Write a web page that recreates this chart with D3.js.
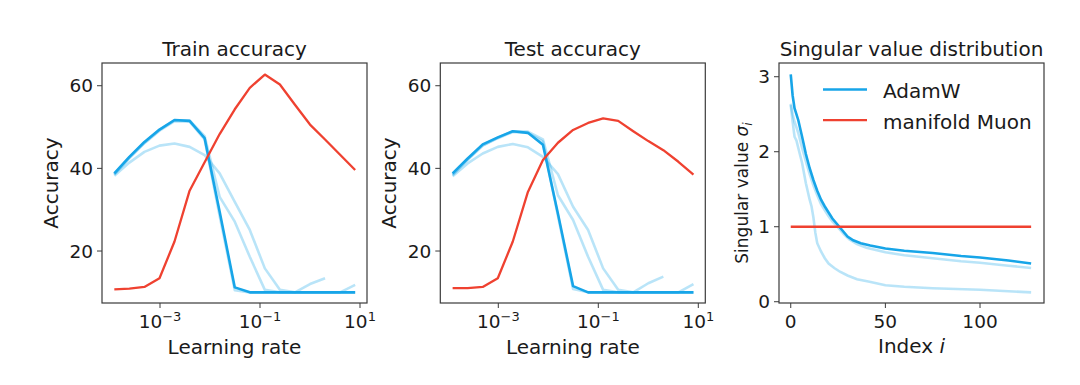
<!DOCTYPE html>
<html lang="en">
<head>
<meta charset="UTF-8">
<title>AdamW vs manifold Muon</title>
<script src="https://d3js.org/d3.v7.min.js"></script>
<style>
  body { margin: 0; background: #fff; }
  svg { display: block; font-family: "DejaVu Sans", sans-serif; }
</style>
</head>
<body>
<svg id="chart" width="1080" height="385"></svg>
<script>
// learning rates of the sweep (2^-13 ... 2^3)
const learningRates = [1.22e-4, 2.44e-4, 4.88e-4, 9.77e-4, 1.95e-3, 3.91e-3, 7.81e-3, 1.56e-2,
  3.13e-2, 6.25e-2, 0.125, 0.25, 0.5, 1, 2, 4, 8];

// train accuracy (%), AdamW: main run + three faded runs, manifold Muon
const trainAdamW  = [38.8, 42.8, 46.4, 49.4, 51.7, 51.5, 47.3, 29.5, 11.2, 10, 10, 10, 10, 10, 10, 10, 10];
const trainFadedA = [38.5, 42.5, 46.1, 49.1, 51.4, 51.3, 47.0, 28.5, 10.5, 10, 10, 10, 10, 10, 10, 10, 10];
const trainFadedB = [38.2, 41.4, 44.0, 45.5, 46.0, 45.2, 43.2, 38.8, 31.9, 25.1, 15.8, 10.6, 10, 12.0, 13.4, null, null];
const trainFadedC = [38.6, 42.6, 46.2, 49.3, 51.6, 51.6, 47.8, 33.1, 27.1, 18.6, 10.6, 10, 10, 10, 10, 10, 11.8];
const trainMuon   = [10.7, 10.9, 11.3, 13.4, 22.3, 34.6, 41.5, 48.3, 54.3, 59.5, 62.7, 60.3, 55.4, 50.6, 47.0, 43.3, 39.6];

// test accuracy (%)
const testAdamW  = [38.8, 42.4, 45.8, 47.5, 49.0, 48.6, 45.7, 29.0, 11.5, 10, 10, 10, 10, 10, 10, 10, 10];
const testFadedA = [38.4, 42.1, 45.5, 47.3, 48.8, 48.6, 46.5, 28.5, 10.8, 10, 10, 10, 10, 10, 10, 10, 10];
const testFadedB = [38.1, 41.2, 43.6, 45.2, 45.9, 45.1, 42.8, 38.6, 30.7, 25.1, 15.8, 10.6, 10, 12.2, 13.8, null, null];
const testFadedC = [38.5, 42.2, 45.6, 47.4, 49.0, 48.9, 47.0, 33.5, 27.5, 18.6, 10.6, 10, 10, 10, 10, 10, 12.0];
const testMuon   = [11.0, 11.0, 11.3, 13.4, 22.3, 34.3, 42.0, 46.2, 49.3, 51.0, 52.1, 51.5, 49.0, 46.6, 44.4, 41.6, 38.5];

// singular values [index, sigma]
const svAdamW = [[0, 3.03], [1, 2.75], [2, 2.58], [4, 2.42], [6, 2.2], [8, 1.97], [10, 1.78], [12, 1.62],
  [14, 1.48], [16, 1.36], [18, 1.27], [20, 1.19], [22, 1.11], [24, 1.05], [27, 0.96], [30, 0.87],
  [33, 0.82], [37, 0.78], [42, 0.75], [50, 0.71], [60, 0.68], [75, 0.65], [90, 0.61], [100, 0.59],
  [115, 0.55], [127, 0.51]];
const svFadedA = [[0, 2.64], [1, 2.5], [2, 2.4], [4, 2.25], [6, 2.05], [8, 1.87], [10, 1.7], [12, 1.55],
  [14, 1.42], [16, 1.3], [18, 1.22], [20, 1.14], [22, 1.07], [25, 0.99], [28, 0.9], [31, 0.83],
  [35, 0.77], [40, 0.72], [50, 0.66], [60, 0.62], [75, 0.58], [90, 0.54], [100, 0.52], [115, 0.48],
  [127, 0.45]];
const svFadedB = [[0, 2.62], [1, 2.4], [2, 2.2], [3, 2.15], [4, 2.05], [6, 1.85], [8, 1.58], [10, 1.36],
  [11, 1.27], [12, 1.12], [13, 0.92], [14, 0.78], [16, 0.67], [18, 0.58], [20, 0.51], [23, 0.45],
  [26, 0.4], [30, 0.35], [35, 0.3], [41, 0.27], [50, 0.22], [60, 0.2], [75, 0.18], [100, 0.16],
  [115, 0.14], [127, 0.125]];
const svMuon = [[0, 1], [127, 1]];

// ticks
const lrTickExps = [-3, -1, 1];
const accTicks = [20, 40, 60];
const indexTicks = [0, 50, 100];
const sigmaTicks = [0, 1, 2, 3];
const legendNames = ["AdamW", "manifold Muon"];

const blue = "#17a5e8", red = "#ef4130", ink = "#1a1a1a", spine = "#3a3a3a";

const svg = d3.select("#chart");
const plotTop = 63, plotH = 240, plotW = 265;
const tickSize = 18.5;

function yAxis(g, y, left, ticks) {
  ticks.forEach(t => {
    g.append("line").attr("x1", left - 5).attr("x2", left)
      .attr("y1", y(t)).attr("y2", y(t)).attr("stroke", spine).attr("stroke-width", 1);
    g.append("text").attr("x", left - 9).attr("y", y(t)).attr("dy", "0.36em")
      .attr("text-anchor", "end").attr("font-size", tickSize).attr("fill", ink).text(t);
  });
}

function box(g, left) {
  g.append("rect").attr("x", left).attr("y", plotTop).attr("width", plotW).attr("height", plotH)
    .attr("fill", "none").attr("stroke", spine).attr("stroke-width", 1.2);
}

function accuracyPanel(left, title, adam, fa, fb, fc, muon) {
  const g = svg.append("g");
  const x = d3.scaleLog().domain([Math.pow(10, -4.16), Math.pow(10, 1.14)]).range([left, left + plotW]);
  const y = d3.scaleLinear().domain([7.42, 65.5]).range([plotTop + plotH, plotTop]);
  g.append("text").attr("x", left + plotW / 2).attr("y", 56)
    .attr("text-anchor", "middle").attr("font-size", 20).attr("fill", ink).text(title);

  const line = d3.line()
    .defined(d => d[1] !== null)
    .x(d => x(d[0])).y(d => y(d[1]));
  const pts = arr => learningRates.map((lr, i) => [lr, arr[i]]);

  [fa, fb, fc].forEach(s => {
    g.append("path").attr("d", line(pts(s))).attr("fill", "none")
      .attr("stroke", blue).attr("stroke-opacity", 0.3).attr("stroke-width", 2.6)
      .attr("stroke-linejoin", "round");
  });
  g.append("path").attr("d", line(pts(adam))).attr("fill", "none")
    .attr("stroke", blue).attr("stroke-width", 2.6).attr("stroke-linejoin", "round");
  g.append("path").attr("d", line(pts(muon))).attr("fill", "none")
    .attr("stroke", red).attr("stroke-width", 2.3).attr("stroke-linejoin", "round");

  box(g, left);
  yAxis(g, y, left, accTicks);

  lrTickExps.forEach(e => {
    const px = x(Math.pow(10, e));
    g.append("line").attr("x1", px).attr("x2", px).attr("y1", plotTop + plotH).attr("y2", plotTop + plotH + 5)
      .attr("stroke", spine).attr("stroke-width", 1);
    const t = g.append("text").attr("x", px).attr("y", 328).attr("text-anchor", "middle")
      .attr("font-size", tickSize).attr("fill", ink);
    t.append("tspan").text("10");
    t.append("tspan").attr("dy", -7.5).attr("font-size", 13).text(e < 0 ? "\u2212" + (-e) : e);
  });

  g.append("text").attr("x", left + plotW / 2).attr("y", 354).attr("text-anchor", "middle")
    .attr("font-size", 20).attr("fill", ink).text("Learning rate");
  g.append("text").attr("transform", `translate(${left - 44},${plotTop + plotH / 2}) rotate(-90)`)
    .attr("text-anchor", "middle").attr("font-size", 20).attr("fill", ink).text("Accuracy");
}

accuracyPanel(102, "Train accuracy", trainAdamW, trainFadedA, trainFadedB, trainFadedC, trainMuon);
accuracyPanel(440.3, "Test accuracy", testAdamW, testFadedA, testFadedB, testFadedC, testMuon);

// singular value panel
(function () {
  const left = 779;
  const g = svg.append("g");
  const x = d3.scaleLinear().domain([-6.2, 133.8]).range([left, left + plotW]);
  const y = d3.scaleLinear().domain([-0.017, 3.183]).range([plotTop + plotH, plotTop]);
  g.append("text").attr("x", left + plotW / 2).attr("y", 56)
    .attr("text-anchor", "middle").attr("font-size", 20).attr("fill", ink).text("Singular value distribution");

  const line = d3.line().x(d => x(d[0])).y(d => y(d[1]));
  [svFadedA, svFadedB].forEach(s => {
    g.append("path").attr("d", line(s)).attr("fill", "none")
      .attr("stroke", blue).attr("stroke-opacity", 0.3).attr("stroke-width", 2.6);
  });
  g.append("path").attr("d", line(svAdamW)).attr("fill", "none")
    .attr("stroke", blue).attr("stroke-width", 2.6);
  g.append("path").attr("d", line(svMuon)).attr("fill", "none")
    .attr("stroke", red).attr("stroke-width", 2.3);

  box(g, left);
  yAxis(g, y, left, sigmaTicks);
  indexTicks.forEach(t => {
    g.append("line").attr("x1", x(t)).attr("x2", x(t)).attr("y1", plotTop + plotH).attr("y2", plotTop + plotH + 5)
      .attr("stroke", spine).attr("stroke-width", 1);
    g.append("text").attr("x", x(t)).attr("y", 328).attr("text-anchor", "middle")
      .attr("font-size", tickSize).attr("fill", ink).text(t);
  });

  const xl = g.append("text").attr("x", left + plotW / 2).attr("y", 353).attr("text-anchor", "middle")
    .attr("font-size", 20).attr("fill", ink);
  xl.append("tspan").text("Index ");
  xl.append("tspan").attr("font-style", "italic").text("i");

  const yl = g.append("text").attr("transform", `translate(748,${plotTop + plotH / 2 + 10}) rotate(-90)`)
    .attr("text-anchor", "middle").attr("font-size", 17).attr("fill", ink);
  yl.append("tspan").text("Singular value ");
  yl.append("tspan").attr("font-style", "italic").text("\u03c3");
  yl.append("tspan").attr("font-style", "italic").attr("font-size", 12).attr("dy", 4).text("i");

  // legend
  const colors = [blue, red];
  legendNames.forEach((name, i) => {
    const ly = 89.5 + i * 30.7;
    g.append("line").attr("x1", 823).attr("x2", 867).attr("y1", ly).attr("y2", ly)
      .attr("stroke", colors[i]).attr("stroke-width", i === 0 ? 2.6 : 2.3);
    g.append("text").attr("x", 883).attr("y", ly + 8.5).attr("font-size", 20)
      .attr("fill", ink).text(name);
  });
})();
</script>
</body>
</html>
